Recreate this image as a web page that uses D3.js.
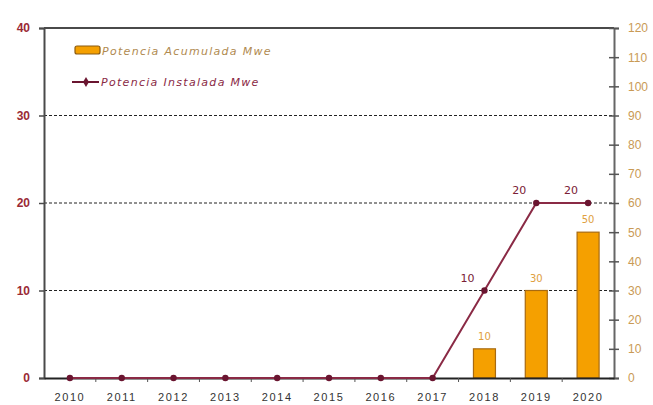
<!DOCTYPE html>
<html>
<head>
<meta charset="utf-8">
<script src="https://cdn.jsdelivr.net/npm/d3@7"></script>
<style>
  html, body { margin: 0; padding: 0; background: #fff; }
  svg { display: block; font-family: "DejaVu Sans", Verdana, sans-serif; }
</style>
</head>
<body>
<svg id="chart" width="653" height="405"></svg>
<script>
// Years on the category axis
const years = ["2010","2011","2012","2013","2014","2015","2016","2017","2018","2019","2020"];
// Installed power per year (left axis, MWe)
const installed = [0,0,0,0,0,0,0,0,10,20,20];
// Accumulated power (right axis, MWe)
const accumulated = [0,0,0,0,0,0,0,0,10,30,50];
// Axis ticks
const leftTicks = [0,10,20,30,40];
const rightTicks = [0,10,20,30,40,50,60,70,80,90,100,110,120];
const gridTicks = [10,20,30];
// Legend entries
const legendBar = "Potencia Acumulada Mwe";
const legendLine = "Potencia Instalada Mwe";

const svg = d3.select("#chart");
const m = { left: 44, right: 614, top: 28, bottom: 378 };

const x = d3.scaleBand().domain(years).range([m.left, m.right]).paddingInner(0).paddingOuter(0);
const yL = d3.scaleLinear().domain([0, 40]).range([m.bottom, m.top]);
const yR = d3.scaleLinear().domain([0, 120]).range([m.bottom, m.top]);

const axisColor = "#4a4a4a";
const lineColor = "#8a2a45";
const dotColor = "#6a1530";
const barFill = "#f5a000";
const barStroke = "#a86a10";

// dotted grid lines
svg.append("g").selectAll("line").data(gridTicks).join("line")
  .attr("x1", m.left).attr("x2", m.right)
  .attr("y1", d => yL(d)).attr("y2", d => yL(d))
  .attr("stroke", "#222").attr("stroke-width", 1)
  .attr("stroke-dasharray", "3,2");

// top frame line
svg.append("line")
  .attr("x1", m.left).attr("x2", m.right)
  .attr("y1", yL(40)).attr("y2", yL(40))
  .attr("stroke", axisColor).attr("stroke-width", 2);

// bars (accumulated, right scale)
const barW = 22;
const barData = years.map((yr, i) => ({ yr, v: accumulated[i] })).filter(d => d.v > 0);
svg.append("g").selectAll("rect").data(barData).join("rect")
  .attr("x", d => x(d.yr) + x.bandwidth() / 2 - barW / 2)
  .attr("y", d => yR(d.v))
  .attr("width", barW)
  .attr("height", d => yR(0) - yR(d.v))
  .attr("fill", barFill)
  .attr("stroke", barStroke)
  .attr("stroke-width", 1.2);

svg.append("g").selectAll("text").data(barData).join("text")
  .attr("x", d => x(d.yr) + x.bandwidth() / 2)
  .attr("y", d => yR(d.v) - 9)
  .attr("text-anchor", "middle")
  .attr("font-size", 10)
  .attr("fill", "#e0a040")
  .text(d => d.v);

// left axis
const leftAxis = d3.axisLeft(yL).tickValues(leftTicks).tickSize(5).tickPadding(9);
const gL = svg.append("g").attr("transform", `translate(${m.left},0)`).call(leftAxis);
gL.select(".domain").attr("stroke", axisColor).attr("stroke-width", 2);
gL.selectAll(".tick line").attr("stroke", axisColor).attr("stroke-width", 1.5);
gL.selectAll(".tick text").attr("font-size", 12).attr("font-weight", "bold").attr("fill", "#9a2a35");

// right axis
const rightAxis = d3.axisRight(yR).tickValues(rightTicks).tickSize(5).tickPadding(9);
const gR = svg.append("g").attr("transform", `translate(${m.right},0)`).call(rightAxis);
gR.select(".domain").attr("stroke", "#666").attr("stroke-width", 2);
gR.selectAll(".tick line").attr("x1", -5).attr("stroke", "#555").attr("stroke-width", 1.5);
gR.selectAll(".tick text").attr("font-size", 12).attr("fill", "#c99a55");

// bottom axis
const bottomAxis = d3.axisBottom(x).tickSize(0).tickPadding(15);
const gB = svg.append("g").attr("transform", `translate(0,${m.bottom})`).call(bottomAxis);
gB.select(".domain").attr("stroke", "#222").attr("stroke-width", 2);
gB.selectAll(".tick text").attr("font-size", 11).attr("letter-spacing", 1.6).attr("fill", "#333");
// small ticks at category boundaries
svg.append("g").selectAll("line").data(years.slice(1)).join("line")
  .attr("x1", d => x(d)).attr("x2", d => x(d))
  .attr("y1", m.bottom).attr("y2", m.bottom + 4)
  .attr("stroke", "#555").attr("stroke-width", 1);

// installed line (left scale)
const pts = years.map((yr, i) => ({ yr, v: installed[i] }));
const line = d3.line().x(d => x(d.yr) + x.bandwidth() / 2).y(d => yL(d.v));
svg.append("path").datum(pts)
  .attr("d", line)
  .attr("fill", "none")
  .attr("stroke", lineColor)
  .attr("stroke-width", 2);
svg.append("g").selectAll("circle").data(pts).join("circle")
  .attr("cx", d => x(d.yr) + x.bandwidth() / 2)
  .attr("cy", d => yL(d.v))
  .attr("r", 3.2)
  .attr("fill", dotColor);

// labels for non-zero installed values
svg.append("g").selectAll("text").data(pts.filter(d => d.v > 0)).join("text")
  .attr("x", d => x(d.yr) + x.bandwidth() / 2 - 17)
  .attr("y", d => yL(d.v) - 9)
  .attr("text-anchor", "middle")
  .attr("font-size", 11)
  .attr("fill", "#7a2035")
  .text(d => d.v);

// legend
const lg = svg.append("g");
lg.append("rect").attr("x", 75).attr("y", 46).attr("width", 25).attr("height", 8)
  .attr("rx", 2).attr("fill", barFill).attr("stroke", "#8a5a10").attr("stroke-width", 1.2);
lg.append("text").attr("x", 102).attr("y", 55).attr("font-size", 11)
  .attr("letter-spacing", 1.3)
  .attr("font-style", "italic").attr("fill", "#b08a50").text(legendBar);
lg.append("line").attr("x1", 72).attr("x2", 99).attr("y1", 82).attr("y2", 82)
  .attr("stroke", dotColor).attr("stroke-width", 2);
lg.append("path").attr("d", d3.symbol().type(d3.symbolDiamond).size(30)())
  .attr("transform", "translate(86,82)").attr("fill", dotColor);
lg.append("text").attr("x", 101).attr("y", 86).attr("font-size", 11)
  .attr("letter-spacing", 1.3)
  .attr("font-style", "italic").attr("fill", "#8a2a45").text(legendLine);
</script>
</body>
</html>
